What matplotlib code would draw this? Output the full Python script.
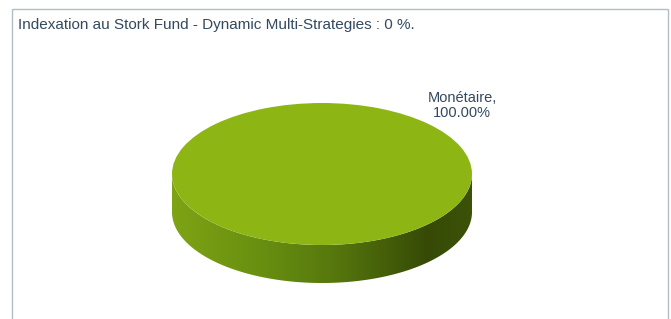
import numpy as np
import matplotlib
matplotlib.use("Agg")
import matplotlib.pyplot as plt
from matplotlib.patches import Rectangle, PathPatch
from matplotlib.path import Path
from matplotlib.colors import LinearSegmentedColormap

# ---- data ----
categories = ["Monétaire"]
values = [100.0]
title_text = "Indexation au Stork Fund - Dynamic Multi-Strategies : 0 %."
label_fmt = "{cat},\n{pct:.2f}%"

# ---- figure ----
W, H = 671, 319
fig = plt.figure(figsize=(W / 100, H / 100), dpi=100)
fig.patch.set_facecolor("white")

# frame box
fig.patches.append(Rectangle((12 / W, -0.1), (668 - 12) / W, 1.1 - 9.5 / H,
                             transform=fig.transFigure, fill=False,
                             edgecolor="#B4BCC4", linewidth=1.0))

# pie axes: unit circle mapped to ellipse centered (322,174) px, a=150, b=71
cx, cy, a, b = 322.0, 174.0, 150.0, 71.0
depth = 38.0 / b
ax = fig.add_axes([0, 0, 1, 1])
ax.set_xlim(-cx / a, (W - cx) / a)
ax.set_ylim(-(H - cy) / b, cy / b)
ax.axis("off")

top_color = "#8DB614"
wedges, _ = ax.pie(values, colors=[top_color], radius=1.0, center=(0, 0),
                   startangle=90, counterclock=False,
                   wedgeprops=dict(linewidth=0))
ax.set_aspect("auto")
ax.set_xlim(-cx / a, (W - cx) / a)
ax.set_ylim(-(H - cy) / b, cy / b)
for w in wedges:
    w.set_zorder(3)

# side (front half of the cylinder) from the pie's angular span
total = sum(values)
theta = np.linspace(np.pi, 2 * np.pi, 200)
xs = np.cos(theta)
ys = np.sin(theta)
verts = list(zip(xs, ys)) + list(zip(xs[::-1], ys[::-1] - depth))
verts.append(verts[0])
codes = [Path.MOVETO] + [Path.LINETO] * (len(verts) - 2) + [Path.CLOSEPOLY]
side_path = Path(verts, codes)
side_patch = PathPatch(side_path, facecolor="none", edgecolor="none")
ax.add_patch(side_patch)

cmap = LinearSegmentedColormap.from_list(
    "side", [(0.0, "#7EA314"), (0.3, "#688F10"), (0.55, "#55760D"),
             (0.85, "#364A06"), (1.0, "#3C5208")])
grad = np.linspace(0, 1, 256)[None, :]
im = ax.imshow(grad, cmap=cmap, extent=(-1, 1, -1 - depth, 0),
               aspect="auto", zorder=2, interpolation="bilinear")
im.set_clip_path(side_patch)
ax.set_xlim(-cx / a, (W - cx) / a)
ax.set_ylim(-(H - cy) / b, cy / b)

# texts
text_color = "#33495F"
fig.text(18 / W, 1 - 25.5 / H, title_text, fontsize=11, color=text_color,
         family="Liberation Sans", va="center", ha="left")
label = label_fmt.format(cat=categories[0], pct=values[0] / total * 100)
fig.text(462 / W, 1 - 105.5 / H, label, fontsize=10.5, color=text_color,
         family="Liberation Sans", va="center", ha="center", linespacing=1.1)

fig.savefig("out.png", dpi=100, facecolor="white")
